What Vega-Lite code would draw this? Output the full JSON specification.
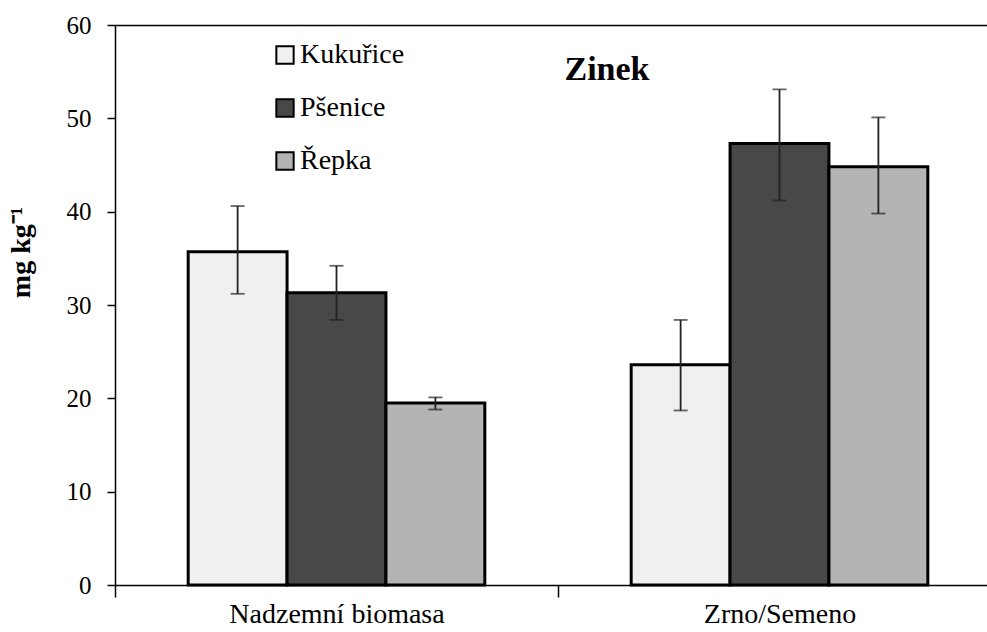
{
  "$schema": "https://vega.github.io/schema/vega-lite/v6.json",
  "width": 872,
  "height": 560,
  "autosize": {"type": "none"},
  "padding": {"left": 115, "top": 25, "right": 0, "bottom": 47},
  "background": "white",
  "config": {"view": {"stroke": null}, "font": "Liberation Serif"},
  "title": {"text": "Zinek", "font": "Liberation Serif", "fontSize": 34, "fontWeight": "bold", "color": "black", "anchor": "middle", "frame": "group", "offset": 0, "baseline": "middle", "dx": 56, "dy": 91},
  "data": {"values": [
    {"cat": "Nadzemní biomasa", "crop": "Kukuřice", "value": 35.7, "lo": 31.2, "hi": 40.6},
    {"cat": "Nadzemní biomasa", "crop": "Pšenice", "value": 31.3, "lo": 28.4, "hi": 34.2},
    {"cat": "Nadzemní biomasa", "crop": "Řepka", "value": 19.5, "lo": 18.8, "hi": 20.1},
    {"cat": "Zrno/Semeno", "crop": "Kukuřice", "value": 23.6, "lo": 18.7, "hi": 28.4},
    {"cat": "Zrno/Semeno", "crop": "Pšenice", "value": 47.3, "lo": 41.2, "hi": 53.1},
    {"cat": "Zrno/Semeno", "crop": "Řepka", "value": 44.8, "lo": 39.8, "hi": 50.1}
  ]},
  "encoding": {
    "x": {"field": "cat", "type": "nominal", "sort": ["Nadzemní biomasa", "Zrno/Semeno"],
      "scale": {"range": [0, 886], "paddingInner": 0, "paddingOuter": 0},
      "axis": {"title": null, "labelAngle": 0, "labelLimit": 0, "tickBand": "extent", "tickSize": 12, "tickColor": "black", "tickWidth": 1.5, "domainColor": "black", "domainWidth": 1.5, "labelFontSize": 28, "labelColor": "black", "labelPadding": 3, "labelFont": "Liberation Serif"}},
    "xOffset": {"field": "crop", "type": "nominal", "sort": ["Kukuřice", "Pšenice", "Řepka"], "scale": {"paddingOuter": 0.74, "paddingInner": 0}}
  },
  "layer": [
    {
      "mark": {"type": "bar", "stroke": "black", "strokeWidth": 3},
      "encoding": {
        "y": {"field": "value", "type": "quantitative", "scale": {"domain": [0, 60], "nice": false},
          "axis": {"title": "mg kg⁻¹", "titleFont": "Liberation Serif", "titleFontSize": 28, "titleFontWeight": "bold", "titleColor": "black", "titleX": -94, "titleY": 227, "titleAngle": -90, "titleAlign": "center", "titleBaseline": "middle", "values": [0, 10, 20, 30, 40, 50, 60], "labelFontSize": 25, "labelFont": "Liberation Serif", "labelColor": "black", "labelPadding": 16, "tickColor": "black", "tickSize": 8, "tickWidth": 1.5, "domainColor": "black", "domainWidth": 1.5, "grid": true, "gridColor": "black", "gridWidth": 1.5, "gridOpacity": {"condition": {"test": "datum.value === 60", "value": 1}, "value": 0}}},
        "fill": {"field": "crop", "type": "nominal", "sort": ["Kukuřice", "Pšenice", "Řepka"],
          "scale": {"domain": ["Kukuřice", "Pšenice", "Řepka"], "range": ["#f0f0f0", "#484848", "#b4b4b4"]},
          "legend": {"orient": "none", "legendX": 156, "legendY": 16, "title": null, "symbolType": "square", "symbolSize": 300, "symbolStrokeColor": "black", "symbolStrokeWidth": 2, "labelFontSize": 28, "labelFont": "Liberation Serif", "labelColor": "black", "labelOffset": 1, "rowPadding": 25, "padding": 0}}
      }
    },
    {
      "mark": {"type": "rule", "color": "#222222", "strokeWidth": 1.8},
      "encoding": {"y": {"field": "lo", "type": "quantitative"}, "y2": {"field": "hi"}}
    },
    {
      "mark": {"type": "tick", "color": "#222222", "thickness": 1.8, "size": 14},
      "encoding": {"y": {"field": "hi", "type": "quantitative"}}
    },
    {
      "mark": {"type": "tick", "color": "#222222", "thickness": 1.8, "size": 14},
      "encoding": {"y": {"field": "lo", "type": "quantitative"}}
    }
  ]
}
